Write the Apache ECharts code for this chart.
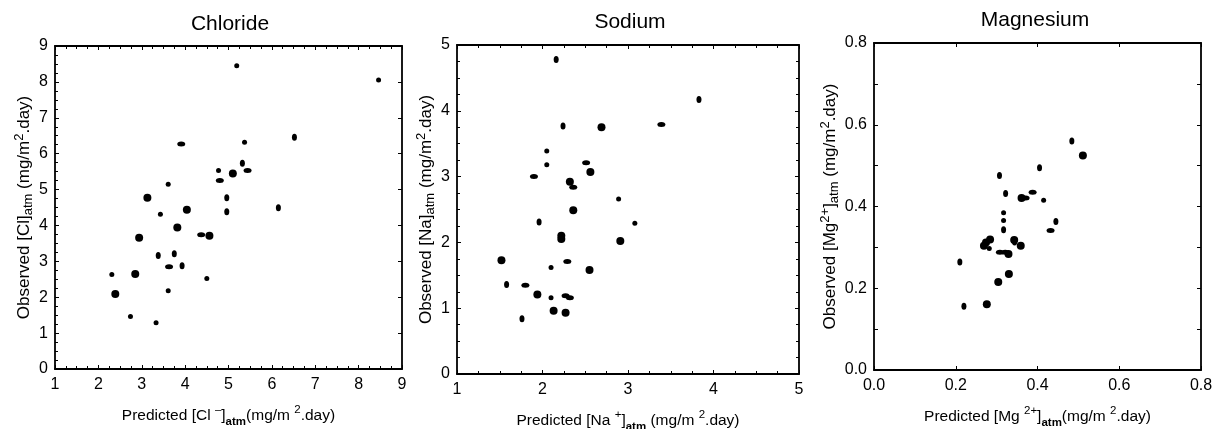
<!DOCTYPE html>
<html>
<head>
<meta charset="utf-8">
<script src="https://cdn.jsdelivr.net/npm/echarts@6/dist/echarts.min.js"></script>
<style>
html,body{margin:0;padding:0;background:#fff;}
#chart{width:1212px;height:429px;}
</style>
</head>
<body>
<div id="chart"></div>
<script>
// ---- Data ----
const panelTitles = ['Chloride', 'Sodium', 'Magnesium'];

// Chloride [Cl-] : [predicted, observed]
const clSmall = [[5.19,8.45],[8.46,8.05],[5.37,6.32],[4.77,5.53],[3.61,5.15],[3.43,4.31],[2.31,2.63],[4.50,2.52],[3.61,2.18],[2.74,1.46],[3.33,1.29]];
const clLarge = [[5.10,5.45],[3.13,4.77],[4.04,4.44],[3.82,3.94],[4.56,3.71],[2.94,3.66],[2.85,2.65],[2.39,2.09]];
const clOval  = [[6.52,6.46],[5.32,5.73],[4.96,4.77],[4.96,4.38],[6.15,4.49],[3.38,3.16],[3.75,3.21],[3.93,2.88]];
const clDash  = [[3.91,6.27],[5.44,5.53],[4.80,5.25],[4.37,3.74],[3.63,2.85]];

// Sodium [Na+]
const naSmall = [[2.05,3.39],[2.05,3.18],[2.89,2.66],[3.08,2.29],[2.10,1.62],[2.10,1.16]];
const naLarge = [[2.69,3.75],[2.56,3.07],[2.32,2.92],[2.36,2.49],[2.22,2.10],[2.22,2.05],[2.91,2.02],[1.52,1.73],[2.55,1.58],[1.94,1.21],[2.13,0.96],[2.27,0.93]];
const naOval  = [[2.16,4.78],[3.83,4.17],[2.24,3.77],[1.96,2.31],[1.58,1.36],[1.76,0.84]];
const naDash  = [[3.39,3.79],[2.51,3.21],[1.90,3.00],[2.36,2.84],[2.29,1.71],[1.80,1.35],[2.27,1.19],[2.32,1.16]];

// Magnesium [Mg2+]
const mgSmall = [[0.415,0.415],[0.317,0.385],[0.317,0.366],[0.282,0.297]];
const mgLarge = [[0.511,0.525],[0.361,0.421],[0.284,0.319],[0.274,0.312],[0.269,0.304],[0.343,0.318],[0.359,0.304],[0.329,0.284],[0.330,0.235],[0.304,0.215],[0.276,0.161]];
const mgOval  = [[0.484,0.560],[0.405,0.495],[0.307,0.476],[0.322,0.432],[0.317,0.343],[0.445,0.363],[0.344,0.313],[0.210,0.264],[0.220,0.156]];
const mgDash  = [[0.371,0.421],[0.388,0.435],[0.432,0.341],[0.308,0.288],[0.321,0.288]];

// Axis ranges
const xRanges = [[1,9,1],[1,5,1],[0,0.8,0.2]];
const yRanges = [[0,9,1],[0,5,1],[0,0.8,0.2]];

// Axis names (rich text)
const xNames = [
  '{n|Predicted [Cl }{sup|\u2013}{n|]}{sub|atm}{n|(mg/m }{sup|2}{n|.day)}',
  '{n|Predicted [Na }{sup|+}{n|]}{sub|atm}{n| (mg/m }{sup|2}{n|.day)}',
  '{n|Predicted [Mg }{sup|2+}{n|]}{sub|atm}{n|(mg/m }{sup|2}{n|.day)}'
];
const yNames = [
  '{n|Observed [Cl]}{sub|atm}{n| (mg/m}{sup|2}{n|.day)}',
  '{n|Observed [Na]}{sub|atm}{n| (mg/m}{sup|2}{n|.day)}',
  '{n|Observed [Mg}{sup|2+}{n|]}{sub|atm}{n| (mg/m}{sup|2}{n|.day)}'
];

// ---- Layout / style ----
const FONT = 'Liberation Sans, Arial, sans-serif';
const grids = [
  {left:55, top:46, width:347, height:323},
  {left:457, top:45, width:342, height:329},
  {left:874, top:43, width:327, height:327}
];
const titleCenters = [[225,9],[625,7],[1030,5]];
const xNameGap = [35, 35, 35];
const yNameGap = [19, 8, 22];
const minorX = [4,4,0];
const minorY = [4,4,2];
const rightMinor = [false,true,true];
const topMinor = [true,true,false];
const decimals = [0,0,1];

function rich(fs, boldSub, extra) {
  return {
    n: {fontSize: fs, fontFamily: FONT, color:'#000', lineHeight: fs+extra},
    sup: {fontSize: fs-4, fontFamily: FONT, color:'#000', verticalAlign:'top'},
    sub: {fontSize: fs-4, fontFamily: FONT, color:'#000', verticalAlign:'bottom', fontWeight: boldSub ? 'bold' : 'normal'}
  };
}

const axisLineStyle = {show:true, onZero:false, lineStyle:{color:'#000', width:1.8}};

const option = {
  animation:false,
  backgroundColor:'#fff',
  title: panelTitles.map((t,i)=>({
    text:t, left:titleCenters[i][0], top:titleCenters[i][1], textAlign:'center',
    textStyle:{fontFamily:FONT, fontSize:21, fontWeight:'normal', color:'#000'}
  })),
  grid: grids.map(g=>Object.assign({containLabel:false, outerBoundsMode:'none'}, g)),
  xAxis: [],
  yAxis: [],
  series: []
};

const sets = [
  [clSmall, clLarge, clOval, clDash],
  [naSmall, naLarge, naOval, naDash],
  [mgSmall, mgLarge, mgOval, mgDash]
];
const markerSizes = [[5,5],[8,8],[5,7],[8,5]];

for (let i=0;i<3;i++){
  const [xmin,xmax,xint] = xRanges[i];
  const [ymin,ymax,yint] = yRanges[i];
  const fmt = v => Number(v).toFixed(decimals[i]);
  option.xAxis.push({
    type:'value', gridIndex:i, position:'bottom', min:xmin, max:xmax, interval:xint,
    axisLine:axisLineStyle, splitLine:{show:false},
    axisTick:{show:true, inside:true, length:4, lineStyle:{color:'#000'}},
    minorTick:{show:minorX[i]>0, splitNumber:minorX[i]||5, length:3, lineStyle:{color:'#000'}},
    axisLabel:{show:true, margin:8, fontSize:16, fontFamily:FONT, color:'#000', formatter:fmt},
    name:xNames[i], nameLocation:'middle', nameGap:xNameGap[i],
    nameTextStyle:{rich:rich(15.5,true,8)}
  });
  option.xAxis.push({
    type:'value', gridIndex:i, position:'top', min:xmin, max:xmax, interval:xint,
    axisLine:axisLineStyle, splitLine:{show:false},
    axisTick:{show:true, inside:true, length:4, lineStyle:{color:'#000'}},
    minorTick:{show:topMinor[i], splitNumber:minorX[i]||5, length:3, lineStyle:{color:'#000'}},
    axisLabel:{show:false}
  });
  option.yAxis.push({
    type:'value', gridIndex:i, position:'left', min:ymin, max:ymax, interval:yint,
    axisLine:axisLineStyle, splitLine:{show:false},
    axisTick:{show:true, inside:true, length:4, lineStyle:{color:'#000'}},
    minorTick:{show:true, splitNumber:minorY[i], length:i===2?4:3, lineStyle:{color:'#000'}},
    axisLabel:{show:true, margin:7, fontSize:16, fontFamily:FONT, color:'#000', formatter:fmt},
    name:yNames[i], nameLocation:'middle', nameGap:yNameGap[i], nameRotate:90,
    nameTextStyle:{rich:rich(17,false,5)}
  });
  option.yAxis.push({
    type:'value', gridIndex:i, position:'right', min:ymin, max:ymax, interval:yint,
    axisLine:axisLineStyle, splitLine:{show:false},
    axisTick:{show:true, inside:true, length:4, lineStyle:{color:'#000'}},
    minorTick:{show:rightMinor[i], splitNumber:minorY[i], length:i===2?4:3, lineStyle:{color:'#000'}},
    axisLabel:{show:false}
  });
  sets[i].forEach((data,k)=>{
    option.series.push({
      type:'scatter', xAxisIndex:i*2, yAxisIndex:i*2, data:data,
      symbol:'circle', symbolSize:markerSizes[k],
      itemStyle:{color:'#000', opacity:1}, silent:true
    });
  });
}

const chart = echarts.init(document.getElementById('chart'), null, {renderer:'canvas'});
chart.setOption(option);
</script>
</body>
</html>
